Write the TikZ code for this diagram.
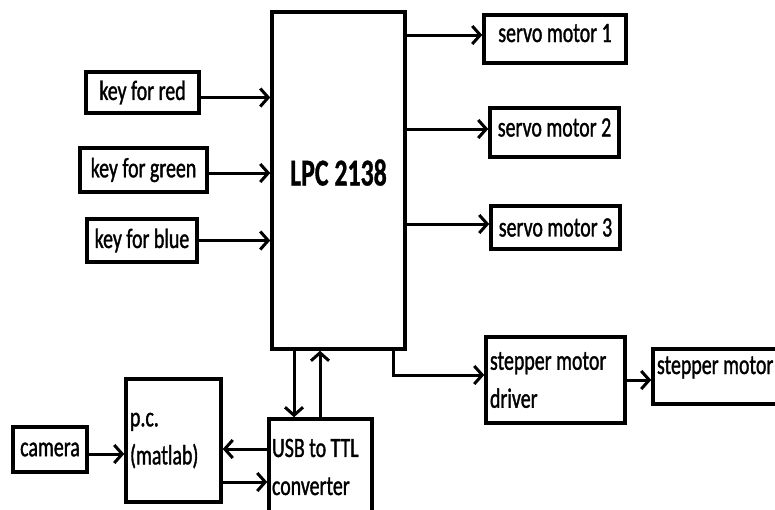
\documentclass[tikz,border=0pt]{standalone}
\usepackage{fontspec}
\setmainfont{Carlito}[FakeStretch=0.71,FakeBold=1.2]
\newfontfamily\lpcfont{Carlito}[FakeStretch=0.68,FakeBold=0.8]
\usetikzlibrary{arrows.meta}
\begin{document}
\begin{tikzpicture}[x=1pt,y=-1pt,
  box/.style={draw,line width=3.5pt,rectangle,inner sep=3pt,font=\fontsize{28}{38}\selectfont},
  leftbox/.style={box,align=flush left},
  arr/.style={line width=3pt,-{Straight Barb[length=8pt,width=18pt]}}]
\clip (0,0) rectangle (775,509);
\fill[white] (0,0) rectangle (775,509);
% boxes
\node[box,minimum width=113pt,minimum height=41pt] (red) at (142.5,92.5) {key for red};
\node[box,minimum width=127pt,minimum height=44pt] (green) at (143.5,170) {key for green};
\node[box,minimum width=110pt,minimum height=43pt] (blue) at (142,240.5) {key for blue};
\node[box,minimum width=133pt,minimum height=337pt,text height=30pt,text depth=20pt,font=\lpcfont\bfseries\fontsize{38}{40}\selectfont] (lpc) at (338.5,180.5) {LPC 2138};
\node[box,minimum width=142pt,minimum height=48pt,text height=18pt,text depth=12pt] (s1) at (555,39) {servo motor 1};
\node[box,minimum width=129pt,minimum height=49pt,text height=18pt,text depth=10pt] (s2) at (554.5,132.5) {servo motor 2};
\node[box,minimum width=129pt,minimum height=43pt] (s3) at (555.5,227.5) {servo motor 3};
\node[leftbox,minimum width=139pt,minimum height=86pt,text width=131pt] (drv) at (555.5,380) {stepper motor\\driver};
\node[leftbox,minimum width=137pt,minimum height=55pt,text width=129pt,text height=16pt,text depth=21pt] (stp) at (721.5,376.5) {stepper motor};
\node[box,minimum width=74pt,minimum height=45pt] (cam) at (50,449.5) {camera};
\node[leftbox,minimum width=95pt,minimum height=123pt,text width=87pt] (pc) at (173.5,440.5) {p.c.\\(matlab)};
\node[leftbox,minimum width=103pt,minimum height=96pt,text width=97pt,inner xsep=2pt] (usb) at (320.5,467) {USB to TTL\\converter};
% inputs
\draw[arr] ([yshift=-5pt]red.east) -- ([yshift=-5pt]red.east -| lpc.west);
\draw[arr] ([yshift=-3pt]green.east) -- ([yshift=-3pt]green.east -| lpc.west);
\draw[arr] (blue.east) -- (blue.east -| lpc.west);
% outputs
\draw[arr] ([yshift=4pt]s1.west -| lpc.east) -- ([yshift=4pt]s1.west);
\draw[arr] ([yshift=3.5pt]s2.west -| lpc.east) -- ([yshift=3.5pt]s2.west);
\draw[arr] ([yshift=3.5pt]s3.west -| lpc.east) -- ([yshift=3.5pt]s3.west);
\coordinate (dtap) at (393,349);
\draw[arr] (dtap |- lpc.south) |- ([yshift=5pt]drv.west);
\draw[arr] (drv.east) -- (drv.east -| stp.west);
% bottom
\draw[arr] ([yshift=-4.5pt]cam.east) -- ([yshift=-4.5pt]cam.east -| pc.west);
\coordinate (d1) at (294,0);
\coordinate (u1) at (320,0);
\coordinate (l1) at (0,449);
\coordinate (l2) at (0,482);
\draw[arr] (d1 |- lpc.south) -- (d1 |- usb.north);
\draw[arr] (u1 |- usb.north) -- (u1 |- lpc.south);
\draw[arr] (l1 -| usb.west) -- (l1 -| pc.east);
\draw[arr] (l2 -| pc.east) -- (l2 -| usb.west);
\end{tikzpicture}
\end{document}
